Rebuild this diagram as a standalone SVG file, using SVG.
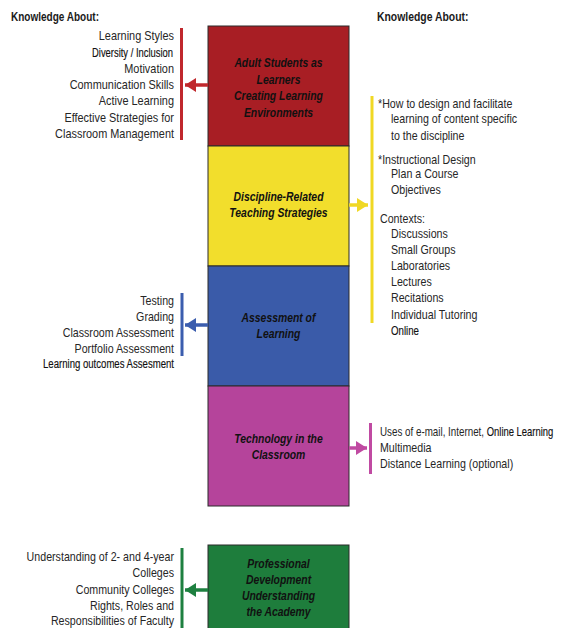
<svg xmlns="http://www.w3.org/2000/svg" width="561" height="628" viewBox="0 0 561 628">
<style>
.t{font-family:"Liberation Sans",Arial,sans-serif;font-size:13px;fill:#262626}
.alt{font-family:"Liberation Sans",Arial,sans-serif;font-size:12.5px;fill:#111;stroke:#111;stroke-width:0.15}
.h{font-family:"Liberation Sans",Arial,sans-serif;font-size:13px;font-weight:bold;fill:#1a1a1a}
.b{font-family:"Liberation Sans",Arial,sans-serif;font-size:13.5px;font-weight:bold;font-style:italic;fill:#111;text-anchor:middle}
.box{stroke:#2a2a2a;stroke-width:1}
.end{text-anchor:end}
.bar{stroke-width:3;fill:none}
.shaft{stroke-width:3.5;fill:none}
</style>
<defs>
<marker id="aR" markerUnits="userSpaceOnUse" markerWidth="12" markerHeight="14" refX="11" refY="7" orient="auto"><path d="M0,0 L11,7 L0,14 Z" fill="#C0282D"/></marker>
<marker id="aY" markerUnits="userSpaceOnUse" markerWidth="12" markerHeight="14" refX="11" refY="7" orient="auto"><path d="M0,0 L11,7 L0,14 Z" fill="#F0D824"/></marker>
<marker id="aB" markerUnits="userSpaceOnUse" markerWidth="12" markerHeight="14" refX="11" refY="7" orient="auto"><path d="M0,0 L11,7 L0,14 Z" fill="#3B5DAE"/></marker>
<marker id="aM" markerUnits="userSpaceOnUse" markerWidth="12" markerHeight="14" refX="11" refY="7" orient="auto"><path d="M0,0 L11,7 L0,14 Z" fill="#C04AA2"/></marker>
<marker id="aG" markerUnits="userSpaceOnUse" markerWidth="12" markerHeight="14" refX="11" refY="7" orient="auto"><path d="M0,0 L11,7 L0,14 Z" fill="#1E8040"/></marker>
</defs>
<rect width="561" height="628" fill="#ffffff"/>

<g id="headings">
<g transform="translate(11,0) scale(0.77,1)"><text class="h" x="0" y="21.5">Knowledge About:</text></g>
<g transform="translate(377,0) scale(0.8,1)"><text class="h" x="0" y="21">Knowledge About:</text></g>
</g>

<g id="node-adult">
<rect class="box" x="208" y="26" width="141" height="120" fill="#A81E24"/>
<g transform="translate(278.5,0) scale(0.77,1)">
<text class="b" x="0" y="67.5">Adult Students as</text>
<text class="b" x="0" y="84">Learners</text>
<text class="b" x="0" y="100.5">Creating Learning</text>
<text class="b" x="0" y="117">Environments</text>
</g>
</g>

<g id="node-discipline">
<rect class="box" x="208" y="146" width="141" height="120" fill="#F2DE2C"/>
<g transform="translate(278.5,0) scale(0.77,1)">
<text class="b" x="0" y="201.5">Discipline-Related</text>
<text class="b" x="0" y="217.5">Teaching Strategies</text>
</g>
</g>

<g id="node-assessment">
<rect class="box" x="208" y="266" width="141" height="120" fill="#3A5BA9"/>
<g transform="translate(278.5,0) scale(0.77,1)">
<text class="b" x="0" y="322.5">Assessment of</text>
<text class="b" x="0" y="338.5">Learning</text>
</g>
</g>

<g id="node-technology">
<rect class="box" x="208" y="386" width="141" height="120" fill="#B5449B"/>
<g transform="translate(278.5,0) scale(0.77,1)">
<text class="b" x="0" y="443">Technology in the</text>
<text class="b" x="0" y="459">Classroom</text>
</g>
</g>

<g id="node-professional">
<rect class="box" x="208" y="545" width="141" height="90" fill="#1E7D3C"/>
<g transform="translate(278.5,0) scale(0.77,1)">
<text class="b" x="0" y="568">Professional</text>
<text class="b" x="0" y="584.5">Development</text>
<text class="b" x="0" y="600.5">Understanding</text>
<text class="b" x="0" y="616.5">the Academy</text>
</g>
</g>

<g id="list-adult">
<g transform="translate(174,0) scale(0.84,1)">
<text class="t end" x="0" y="40.5">Learning Styles</text>
<text class="t end" x="0" y="73">Motivation</text>
<text class="t end" x="0" y="89">Communication Skills</text>
<text class="t end" x="0" y="105.5">Active Learning</text>
<text class="t end" x="0" y="122">Effective Strategies for</text>
<text class="t end" x="0" y="138">Classroom Management</text>
</g>
<text class="alt" x="92" y="56.5" textLength="81" lengthAdjust="spacingAndGlyphs">Diversity / Inclusion</text>
</g>

<g id="list-discipline">
<g transform="translate(378,0) scale(0.82,1)">
<text class="t" x="0" y="108">*How to design and facilitate</text>
<text class="t" x="0" y="164">*Instructional Design</text>
</g>
<g transform="translate(380,0) scale(0.82,1)">
<text class="t" x="0" y="223.5">Contexts:</text>
</g>
<g transform="translate(391,0) scale(0.82,1)">
<text class="t" x="0" y="123">learning of content specific</text>
<text class="t" x="0" y="140">to the discipline</text>
<text class="t" x="0" y="178">Plan a Course</text>
<text class="t" x="0" y="194">Objectives</text>
<text class="t" x="0" y="238">Discussions</text>
<text class="t" x="0" y="254.5">Small Groups</text>
<text class="t" x="0" y="270.5">Laboratories</text>
<text class="t" x="0" y="286.5">Lectures</text>
<text class="t" x="0" y="302.5">Recitations</text>
<text class="t" x="0" y="319">Individual Tutoring</text>
</g>
<text class="alt" x="391" y="334.5" textLength="28" lengthAdjust="spacingAndGlyphs">Online</text>
</g>

<g id="list-assessment">
<g transform="translate(174,0) scale(0.82,1)">
<text class="t end" x="0" y="305.5">Testing</text>
<text class="t end" x="0" y="321">Grading</text>
<text class="t end" x="0" y="337">Classroom Assessment</text>
<text class="t end" x="0" y="353.5">Portfolio Assessment</text>
</g>
<text class="alt" x="43" y="368" textLength="131" lengthAdjust="spacingAndGlyphs">Learning outcomes Assesment</text>
</g>

<g id="list-technology">
<g transform="translate(380,0) scale(0.755,1)">
<text class="t" x="0" y="436">Uses of e-mail, Internet, <tspan class="alt">Online Learning</tspan></text>
</g>
<g transform="translate(380,0) scale(0.82,1)">
<text class="t" x="0" y="452.5">Multimedia</text>
<text class="t" x="0" y="468.5">Distance Learning (optional)</text>
</g>
</g>

<g id="list-professional">
<g transform="translate(174,0) scale(0.82,1)">
<text class="t end" x="0" y="561">Understanding of 2- and 4-year</text>
<text class="t end" x="0" y="577.5">Colleges</text>
<text class="t end" x="0" y="594">Community Colleges</text>
<text class="t end" x="0" y="610">Rights, Roles and</text>
<text class="t end" x="0" y="625.5">Responsibilities of Faculty</text>
</g>
</g>

<g id="connectors">
<line class="bar" x1="181.5" y1="28" x2="181.5" y2="140" stroke="#C0282D"/>
<line class="shaft" x1="208" y1="85" x2="185" y2="85" stroke="#C0282D" marker-end="url(#aR)"/>
<line class="bar" x1="372" y1="96" x2="372" y2="323" stroke="#F0D824"/>
<line class="shaft" x1="349" y1="205" x2="368" y2="205" stroke="#F0D824" marker-end="url(#aY)"/>
<line class="bar" x1="182" y1="293" x2="182" y2="356" stroke="#3B5DAE"/>
<line class="shaft" x1="208" y1="325" x2="185" y2="325" stroke="#3B5DAE" marker-end="url(#aB)"/>
<line class="bar" x1="370.5" y1="423" x2="370.5" y2="474" stroke="#C04AA2"/>
<line class="shaft" x1="349" y1="448" x2="367" y2="448" stroke="#C04AA2" marker-end="url(#aM)"/>
<line class="bar" x1="182" y1="548" x2="182" y2="628" stroke="#1E8040"/>
<line class="shaft" x1="208" y1="590" x2="185" y2="590" stroke="#1E8040" marker-end="url(#aG)"/>
</g>
</svg>
